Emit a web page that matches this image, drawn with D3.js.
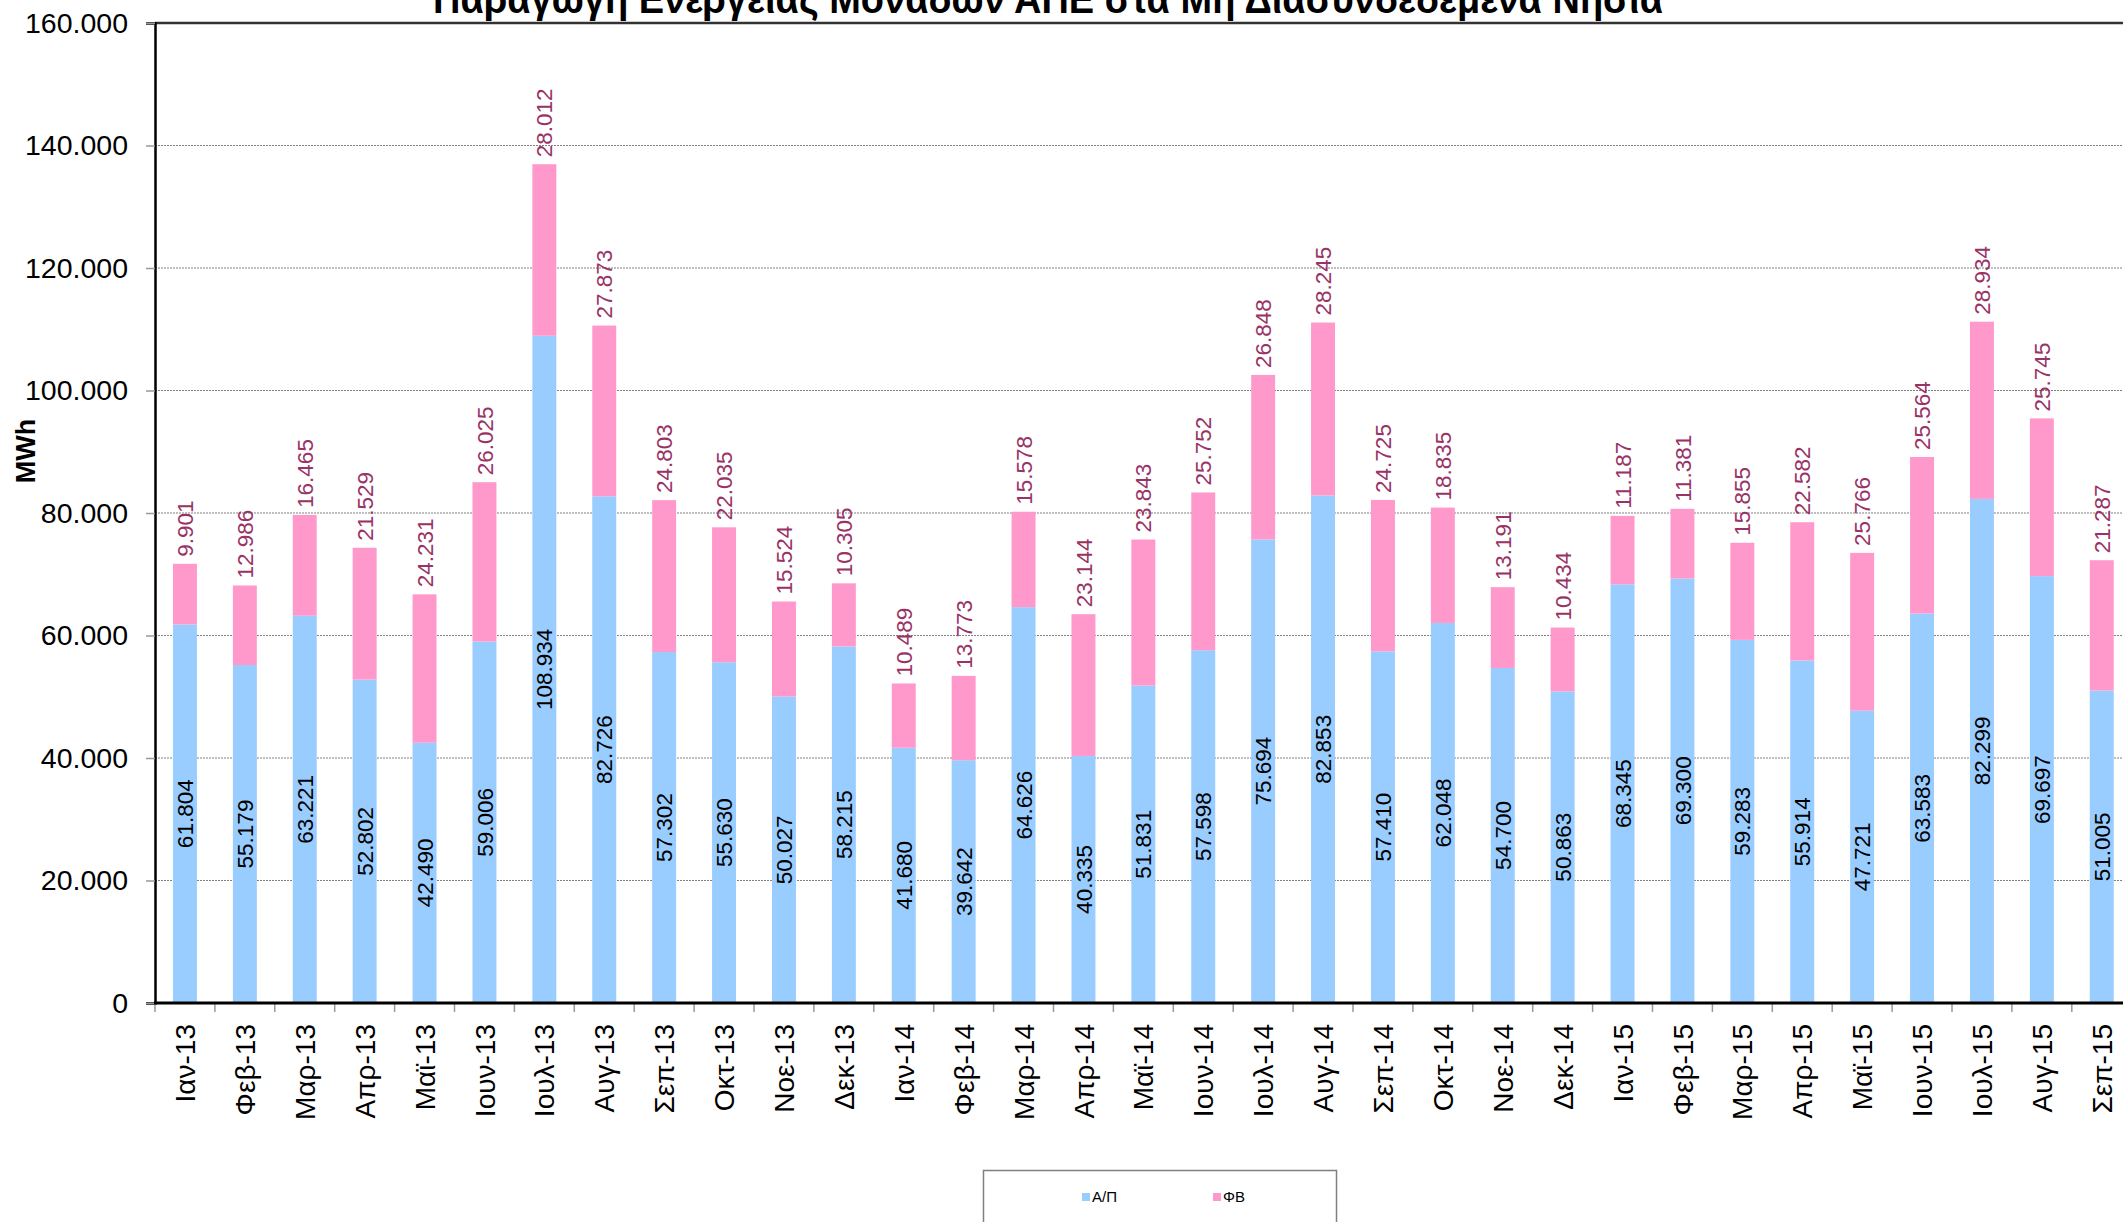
<!DOCTYPE html>
<html>
<head>
<meta charset="utf-8">
<script src="https://cdn.jsdelivr.net/npm/d3@7"></script>
<style>
  body { margin: 0; background: #fff; }
  svg { display: block; font-family: "Liberation Sans", Arial, sans-serif; }
</style>
</head>
<body>
<div id="chart"></div>
<script>
const months = ["Ιαν-13","Φεβ-13","Μαρ-13","Απρ-13","Μαϊ-13","Ιουν-13","Ιουλ-13","Αυγ-13","Σεπ-13","Οκτ-13","Νοε-13","Δεκ-13",
  "Ιαν-14","Φεβ-14","Μαρ-14","Απρ-14","Μαϊ-14","Ιουν-14","Ιουλ-14","Αυγ-14","Σεπ-14","Οκτ-14","Νοε-14","Δεκ-14",
  "Ιαν-15","Φεβ-15","Μαρ-15","Απρ-15","Μαϊ-15","Ιουν-15","Ιουλ-15","Αυγ-15","Σεπ-15"];
// Α/Π (wind), MWh
const windValues = [61804,55179,63221,52802,42490,59006,108934,82726,57302,55630,50027,58215,
  41680,39642,64626,40335,51831,57598,75694,82853,57410,62048,54700,50863,
  68345,69300,59283,55914,47721,63583,82299,69697,51005];
// ΦΒ (photovoltaic), MWh
const pvValues = [9901,12986,16465,21529,24231,26025,28012,27873,24803,22035,15524,10305,
  10489,13773,15578,23144,23843,25752,26848,28245,24725,18835,13191,10434,
  11187,11381,15855,22582,25766,25564,28934,25745,21287];
const seriesNames = ["Α/Π", "ΦΒ"];
const yTicks = [0,20000,40000,60000,80000,100000,120000,140000,160000];

const width = 2123, height = 1222;
const plotLeft = 155, plotTop = 23, plotBottom = 1003, step = 59.9;
const colors = ["#99CCFF", "#FF99CC"];

const gr = d3.formatLocale({decimal: ",", thousands: ".", grouping: [3], currency: ["", "€"]});
const fmt = gr.format(",d");

const data = months.map((m, i) => ({month: m, wind: windValues[i], pv: pvValues[i]}));

const svg = d3.select("#chart").append("svg").attr("width", width).attr("height", height);

const x = d3.scaleBand().domain(months).range([plotLeft, plotLeft + months.length * step])
  .paddingInner(0.6).paddingOuter(0.3);
const y = d3.scaleLinear().domain([0, 160000]).range([plotBottom, plotTop]);

// gridlines
svg.append("g").selectAll("line").data(yTicks.filter(t => t > 0 && t < 160000)).join("line")
  .attr("x1", plotLeft).attr("x2", width).attr("y1", d => y(d)).attr("y2", d => y(d))
  .attr("stroke", "#808080").attr("stroke-width", 1).attr("stroke-dasharray", "2,1");
svg.append("line").attr("x1", plotLeft).attr("x2", width).attr("y1", y(160000)).attr("y2", y(160000))
  .attr("stroke", "#333").attr("stroke-width", 2.5);

// bars
const stack = d3.stack().keys(["wind", "pv"])(data);
svg.append("g").selectAll("g").data(stack).join("g")
  .attr("fill", (d, i) => colors[i])
  .selectAll("rect").data(d => d).join("rect")
  .attr("x", d => x(d.data.month)).attr("width", x.bandwidth())
  .attr("y", d => y(d[1])).attr("height", d => y(d[0]) - y(d[1]));

// y axis
const yAxis = svg.append("g").attr("transform", `translate(${plotLeft},0)`)
  .call(d3.axisLeft(y).tickValues(yTicks).tickFormat(d => fmt(d)).tickSize(9).tickPadding(18));
yAxis.select(".domain").attr("stroke", "#000").attr("stroke-width", 2.5);
yAxis.selectAll(".tick line").attr("stroke", "#999").attr("stroke-width", 1.5);
yAxis.selectAll(".tick text").attr("font-size", 28.5).attr("fill", "#000")
  .attr("font-family", "Liberation Sans, Arial, sans-serif");

// x axis
const xAxis = svg.append("g").attr("transform", `translate(0,${plotBottom})`)
  .call(d3.axisBottom(x).tickSize(0).tickPadding(0));
xAxis.select(".domain").remove();
xAxis.selectAll(".tick text").attr("font-size", 28).attr("fill", "#000")
  .attr("font-family", "Liberation Sans, Arial, sans-serif")
  .attr("transform", "rotate(-90)").attr("text-anchor", "end")
  .attr("x", -21).attr("y", 0).attr("dy", "0.36em");
svg.append("g").selectAll("line").data(d3.range(months.length + 1)).join("line")
  .attr("x1", i => plotLeft + i * step).attr("x2", i => plotLeft + i * step)
  .attr("y1", plotBottom).attr("y2", plotBottom + 9)
  .attr("stroke", "#999").attr("stroke-width", 1.5);
svg.append("line").attr("x1", plotLeft - 1).attr("x2", width).attr("y1", plotBottom).attr("y2", plotBottom)
  .attr("stroke", "#000").attr("stroke-width", 3);

// value labels
svg.append("g").selectAll("text").data(data).join("text")
  .attr("transform", d => `translate(${x(d.month) + x.bandwidth() / 2},${y(d.wind / 2)}) rotate(-90)`)
  .attr("text-anchor", "middle").attr("dy", "0.36em")
  .attr("font-size", 22.5).attr("fill", "#000")
  .text(d => fmt(d.wind));
svg.append("g").selectAll("text").data(data).join("text")
  .attr("transform", d => `translate(${x(d.month) + x.bandwidth() / 2},${y(d.wind + d.pv) - 7}) rotate(-90)`)
  .attr("text-anchor", "start").attr("dy", "0.36em")
  .attr("font-size", 22.5).attr("fill", "#993366")
  .text(d => fmt(d.pv));

// axis title
svg.append("text").attr("transform", "translate(25,451) rotate(-90)")
  .attr("text-anchor", "middle").attr("dy", "0.36em")
  .attr("font-size", 27).attr("font-weight", "bold").text("MWh");

// chart title (cut by the top edge)
svg.append("text").attr("x", 1048).attr("y", 13).attr("text-anchor", "middle")
  .attr("font-family", "Liberation Sans Narrow, Arial Narrow, Liberation Sans, sans-serif")
  .attr("font-size", 40).attr("font-weight", "bold")
  .attr("textLength", 1230).attr("lengthAdjust", "spacingAndGlyphs")
  .text("Παραγωγή Ενέργειας Μονάδων ΑΠΕ στα Μη Διασυνδεδεμένα Νησιά");

// legend
const legend = svg.append("g");
legend.append("rect").attr("x", 983.5).attr("y", 1170.5).attr("width", 353).attr("height", 80)
  .attr("fill", "#fff").attr("stroke", "#808080").attr("stroke-width", 1.5);
const legendX = [1082, 1213];
seriesNames.forEach((name, i) => {
  legend.append("rect").attr("x", legendX[i]).attr("y", 1193).attr("width", 8).attr("height", 8)
    .attr("fill", colors[i]);
  legend.append("text").attr("x", legendX[i] + 10).attr("y", 1197).attr("dy", "0.35em")
    .attr("font-size", 15).attr("fill", "#000").text(name);
});
</script>
</body>
</html>
